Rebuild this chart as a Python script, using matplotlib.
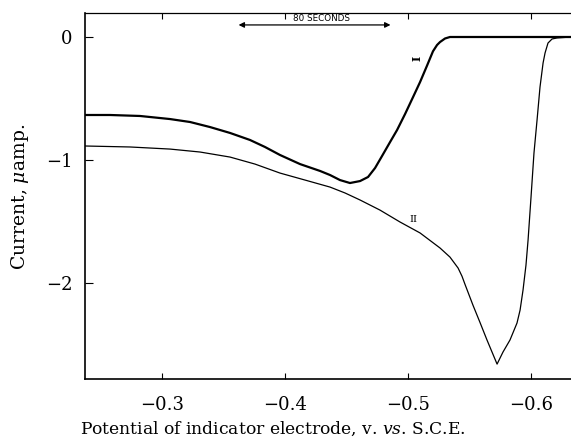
import matplotlib
matplotlib.use("Agg")
import matplotlib.pyplot as plt

plt.rcParams['font.family'] = ['DejaVu Serif']
plt.rcParams['mathtext.fontset'] = 'dejavuserif'

# Curve I (potential, V vs SCE ; current, microamp)
pot_I = [-0.2374, -0.2577, -0.2821, -0.3065, -0.3228, -0.3390, -0.3553, -0.3715,
         -0.3837, -0.3959, -0.4122, -0.4285, -0.4366, -0.4447, -0.4528, -0.4610,
         -0.4675, -0.4732, -0.4789, -0.4854, -0.4911, -0.4976, -0.5041, -0.5098,
         -0.5154, -0.5203, -0.5236, -0.5260, -0.5301, -0.5341, -0.6325]
cur_I = [-0.634, -0.634, -0.642, -0.667, -0.691, -0.732, -0.780, -0.837,
         -0.894, -0.959, -1.033, -1.089, -1.122, -1.163, -1.187, -1.171,
         -1.138, -1.065, -0.967, -0.854, -0.756, -0.626, -0.488, -0.366,
         -0.234, -0.116, -0.065, -0.041, -0.012, 0.0, 0.0]

# Curve II
pot_II = [-0.2374, -0.2740, -0.3065, -0.3309, -0.3553, -0.3756, -0.3959, -0.4163,
          -0.4366, -0.4488, -0.4610, -0.4772, -0.4935, -0.5098, -0.5260, -0.5341,
          -0.5407, -0.5439, -0.5463, -0.5528, -0.5585, -0.5642, -0.5683, -0.5724,
          -0.5772, -0.5829, -0.5886, -0.5911, -0.5935, -0.5959, -0.5976, -0.6000,
          -0.6024, -0.6049, -0.6073, -0.6098, -0.6114, -0.6138, -0.6171, -0.6211,
          -0.6325]
cur_II = [-0.886, -0.894, -0.911, -0.935, -0.976, -1.033, -1.106, -1.163,
          -1.220, -1.268, -1.325, -1.407, -1.504, -1.593, -1.715, -1.789,
          -1.878, -1.945, -2.010, -2.180, -2.320, -2.463, -2.561, -2.659,
          -2.561, -2.463, -2.325, -2.220, -2.057, -1.854, -1.650, -1.301,
          -0.943, -0.675, -0.407, -0.211, -0.130, -0.049, -0.016, -0.008,
          0.0]

xticks = [-0.3, -0.4, -0.5, -0.6]
xticklabels = ['\u22120.3', '\u22120.4', '\u22120.5', '\u22120.6']
yticks = [0, -1, -2]
yticklabels = ['0', '\u22121', '\u22122']

fig = plt.figure(figsize=(5.71, 4.41), dpi=100)
ax = fig.add_axes([0.1489, 0.1406, 0.8511, 0.8299])

ax.plot(pot_I, cur_I, color='black', lw=1.6, solid_joinstyle='round')
ax.plot(pot_II, cur_II, color='black', lw=0.9, solid_joinstyle='round')

ax.set_xlim(-0.2374, -0.6325)
ax.set_ylim(-2.78, 0.195)

ax.set_xticks(xticks)
ax.set_xticklabels(xticklabels, fontsize=13)
ax.set_yticks(yticks)
ax.set_yticklabels(yticklabels, fontsize=13)
ax.tick_params(axis='x', direction='in', length=4, width=0.8, pad=12, top=True)
ax.tick_params(axis='y', direction='in', length=6, width=0.8, pad=9)

ax.spines['right'].set_visible(False)
for s in ['left', 'bottom']:
    ax.spines[s].set_linewidth(1.2)
ax.spines['top'].set_linewidth(0.9)

ax.set_xlabel(r"Potential of indicator electrode, v. $\mathit{vs}$. S.C.E.",
              fontsize=12.3)
ax.xaxis.set_label_coords(0.387, -0.11)
ax.set_ylabel(r"Current, $\mathit{\mu}$amp.", fontsize=13.5)
ax.yaxis.set_label_coords(-0.111, 0.497)

# curve labels
ax.text(-0.5073, -0.171, 'I', rotation=90, fontsize=8, fontweight='bold',
        ha='center', va='center')
ax.text(-0.504, -1.48, 'II', fontsize=7, ha='center', va='center')

# time scale arrow
ax.annotate('', xy=(-0.360, 0.098), xytext=(-0.488, 0.098),
            arrowprops=dict(arrowstyle='<|-|>', color='black', lw=0.9,
                            mutation_scale=8))
ax.text(-0.430, 0.152, '80 SECONDS', fontsize=6.3, family='DejaVu Sans',
        ha='center', va='center')

fig.savefig('out.png', dpi=100)
